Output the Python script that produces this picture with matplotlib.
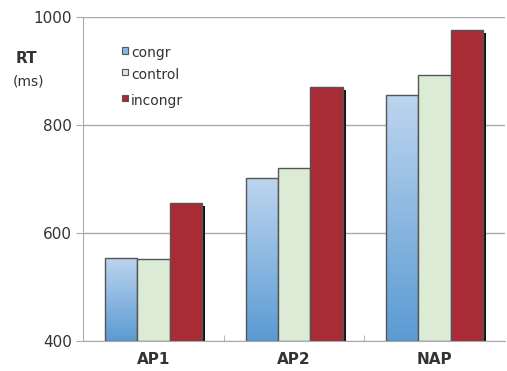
import numpy as np
import matplotlib.pyplot as plt
from matplotlib.colors import LinearSegmentedColormap
from matplotlib.patches import Rectangle

categories = ['AP1', 'AP2', 'NAP']
series = ['congr', 'control', 'incongr']
congr = [554, 702, 856]
control = [551, 720, 892]
incongr = [655, 871, 976]
yticks = [400, 600, 800, 1000]

values = [congr, control, incongr]

fig = plt.figure(figsize=(5.07, 3.71), dpi=100)
ax = fig.add_axes([0.164, 0.081, 0.832, 0.873])

x = np.arange(len(categories))
w = 0.23
offsets = [-w, 0, w]
blue_cmap = LinearSegmentedColormap.from_list('b', ['#bdd5ef', '#5b9bd3'])
grad = np.linspace(0, 1, 100).reshape(-1, 1)

# shadow offsets in data units (roughly 3 px)
dx = 3 / (422 / 3)
dy = 3 / 0.54

for s, vals in enumerate(values):
    for i, v in enumerate(vals):
        left = x[i] + offsets[s] - w / 2
        ax.add_patch(Rectangle((left + dx, 400), w, v - 400 - dy, facecolor='#111111',
                               edgecolor='none', zorder=2 + s * 0.1))
        if s == 0:
            rect = Rectangle((left, 400), w, v - 400, facecolor='none',
                             edgecolor='#555555', lw=1.0, zorder=3 + s * 0.1 + 0.05)
            ax.add_patch(rect)
            im = ax.imshow(grad, cmap=blue_cmap, aspect='auto',
                           extent=(left, left + w, 400, v), zorder=3 + s * 0.1,
                           interpolation='bilinear')
            im.set_clip_path(rect)
        else:
            color = '#dcebd6' if s == 1 else '#a82b36'
            ax.add_patch(Rectangle((left, 400), w, v - 400, facecolor=color,
                                   edgecolor='#555555', lw=1.0, zorder=3 + s * 0.1))

ax.set_xlim(-0.5, 2.5)
ax.set_ylim(400, 1000)
ax.set_yticks(yticks)
ax.set_yticklabels([str(t) for t in yticks], fontsize=11, color='#333333')
ax.set_xticks(x)
ax.set_xticklabels(categories, fontsize=11, fontweight='bold', color='#333333')
ax.set_xticks([0.5, 1.5], minor=True)
ax.tick_params(axis='x', which='major', length=0, pad=8)
ax.tick_params(axis='x', which='minor', length=4, color='#aaaaaa', direction='in')
ax.tick_params(axis='y', length=5, color='#aaaaaa', direction='out', pad=3)
ax.grid(axis='y', color='#aaaaaa', lw=1.0, zorder=1)
ax.set_axisbelow(True)
for sp in ['top', 'right']:
    ax.spines[sp].set_visible(False)
for sp in ['left', 'bottom']:
    ax.spines[sp].set_color('#aaaaaa')

# y label
fig.text(0.03, 0.83, 'RT', fontsize=11, fontweight='bold', color='#333333')
fig.text(0.025, 0.77, '(ms)', fontsize=10, color='#333333')

# legend
leg_colors = ['#8fb6e2', '#dcebd6', '#a82b36']
leg_y = [0.855, 0.797, 0.727]
for name, c, yy in zip(series, leg_colors, leg_y):
    fig.patches.append(Rectangle((0.24, yy), 0.013, 0.018, facecolor=c, edgecolor='#555555',
                                 lw=0.8, transform=fig.transFigure, figure=fig))
    fig.text(0.258, yy - 0.009, name, fontsize=10, color='#333333')

fig.savefig('out.png', dpi=100)
